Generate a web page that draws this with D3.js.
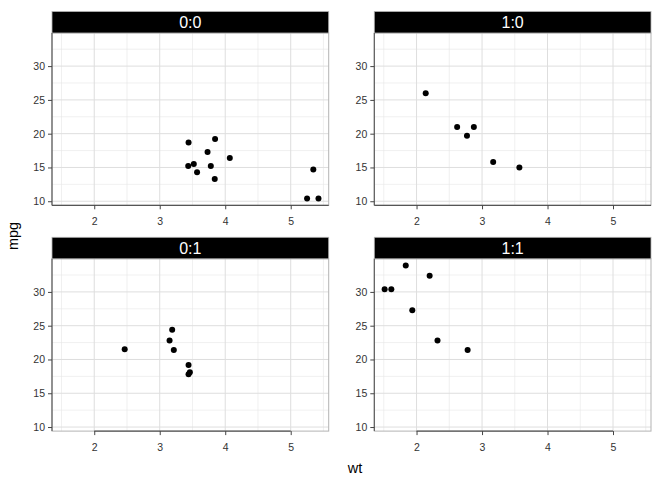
<!DOCTYPE html>
<html><head><meta charset="utf-8">
<script src="https://cdn.jsdelivr.net/npm/d3@7"></script>
<style>body{margin:0;background:#fff}svg{display:block;font-family:"Liberation Sans",Arial,Helvetica,sans-serif}</style>
</head><body>
<svg id="c" width="672" height="480"></svg>
<script>
const facetLabels = ["0:0", "1:0", "0:1", "1:1"];
const wt00 = [3.440, 3.570, 4.070, 3.730, 3.780, 5.250, 5.424, 5.345, 3.520, 3.435, 3.840, 3.845];
const mpg00 = [18.7, 14.3, 16.4, 17.3, 15.2, 10.4, 10.4, 14.7, 15.5, 15.2, 13.3, 19.2];
const wt10 = [2.620, 2.875, 2.140, 3.170, 2.770, 3.570];
const mpg10 = [21.0, 21.0, 26.0, 15.8, 19.7, 15.0];
const wt01 = [3.215, 3.460, 3.190, 3.150, 3.440, 3.440, 2.465];
const mpg01 = [21.4, 18.1, 24.4, 22.8, 19.2, 17.8, 21.5];
const wt11 = [2.320, 2.200, 1.615, 1.835, 1.935, 1.513, 2.780];
const mpg11 = [22.8, 32.4, 30.4, 33.9, 27.3, 30.4, 21.4];
const xTicks = [2, 3, 4, 5];
const yTicks = [10, 15, 20, 25, 30];
const xMinor = [1.5, 2.5, 3.5, 4.5, 5.5];
const yMinor = [12.5, 17.5, 22.5, 27.5, 32.5];
const xLabel = "wt", yLabel = "mpg";

const panels = [
  {label: facetLabels[0], wt: wt00, mpg: mpg00, col: 0, row: 0},
  {label: facetLabels[1], wt: wt10, mpg: mpg10, col: 1, row: 0},
  {label: facetLabels[2], wt: wt01, mpg: mpg01, col: 0, row: 1},
  {label: facetLabels[3], wt: wt11, mpg: mpg11, col: 1, row: 1}
];

const svg = d3.select("#c");
const colX = [52, 374.3], pw = 276.7;
const stripTop = [11.5, 237.3], stripH = 21.5, ph = 172.3;

panels.forEach(p => {
  const x0 = colX[p.col], st = stripTop[p.row], py = st + stripH;
  const x = d3.scaleLinear().domain([1.355, 5.58]).range([x0, x0 + pw]);
  const y = d3.scaleLinear().domain([9.4, 34.9]).range([py + ph, py]);
  const g = svg.append("g");
  g.selectAll(".mx").data(xMinor.filter(v => v > 1.355 && v < 5.58)).join("line")
    .attr("x1", d => x(d)).attr("x2", d => x(d)).attr("y1", py).attr("y2", py + ph)
    .attr("stroke", "#e6e6e6").attr("stroke-width", 0.6);
  g.selectAll(".my").data(yMinor).join("line")
    .attr("y1", d => y(d)).attr("y2", d => y(d)).attr("x1", x0).attr("x2", x0 + pw)
    .attr("stroke", "#e6e6e6").attr("stroke-width", 0.6);
  g.selectAll(".gx").data(xTicks).join("line")
    .attr("x1", d => x(d)).attr("x2", d => x(d)).attr("y1", py).attr("y2", py + ph)
    .attr("stroke", "#dedede").attr("stroke-width", 1);
  g.selectAll(".gy").data(yTicks).join("line")
    .attr("y1", d => y(d)).attr("y2", d => y(d)).attr("x1", x0).attr("x2", x0 + pw)
    .attr("stroke", "#dedede").attr("stroke-width", 1);
  g.append("rect").attr("x", x0).attr("y", py).attr("width", pw).attr("height", ph)
    .attr("fill", "none").attr("stroke", "#b3b3b3").attr("stroke-width", 1);
  g.append("rect").attr("x", x0).attr("y", st).attr("width", pw).attr("height", stripH)
    .attr("fill", "#000").attr("stroke", "#b3b3b3").attr("stroke-width", 0.8);
  g.append("text").attr("x", x0 + pw / 2).attr("y", st + stripH / 2 + 5.5)
    .attr("text-anchor", "middle").attr("fill", "#fff").attr("font-size", 16).text(p.label);
  g.append("line").attr("x1", x0).attr("x2", x0).attr("y1", py).attr("y2", py + ph)
    .attr("stroke", "#555").attr("stroke-width", 1.1);
  const bx1 = p.row === 0 ? x0 : x(xTicks[0]);
  const bx2 = p.row === 0 ? x0 + pw : x(xTicks[xTicks.length - 1]);
  g.append("line").attr("x1", bx1).attr("x2", bx2).attr("y1", py + ph).attr("y2", py + ph)
    .attr("stroke", "#555").attr("stroke-width", 1.3);
  const ay = g.append("g").attr("transform", `translate(${x0},0)`)
    .call(d3.axisLeft(y).tickValues(yTicks).tickFormat(d3.format("d")).tickSize(4).tickPadding(3));
  const ax = g.append("g").attr("transform", `translate(0,${py + ph})`)
    .call(d3.axisBottom(x).tickValues(xTicks).tickFormat(d3.format("d")).tickSize(4).tickPadding(8));
  [ay, ax].forEach(a => {
    a.select(".domain").remove();
    a.selectAll(".tick line").attr("stroke", "#444").attr("stroke-width", 1);
    a.selectAll(".tick text").attr("fill", "#333").attr("font-size", 10.5)
      .attr("font-family", '"Liberation Sans",Arial,sans-serif');
  });
  g.selectAll(".pt").data(p.wt.map((w, i) => [w, p.mpg[i]])).join("circle")
    .attr("cx", d => x(d[0])).attr("cy", d => y(d[1])).attr("r", 3).attr("fill", "#000");
});

svg.append("text").attr("x", 355).attr("y", 473).attr("text-anchor", "middle")
  .attr("font-size", 14.5).attr("fill", "#000").text(xLabel);
svg.append("text").attr("transform", "translate(18,236) rotate(-90)").attr("text-anchor", "middle")
  .attr("font-size", 14.5).attr("fill", "#000").text(yLabel);
</script>
</body></html>
